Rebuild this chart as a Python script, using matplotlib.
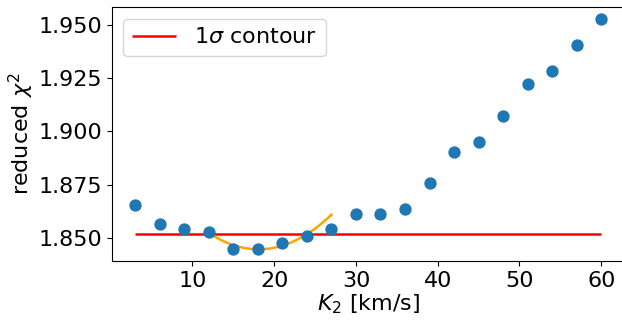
import numpy as np
import matplotlib
matplotlib.use("Agg")
import matplotlib.pyplot as plt

# Radial-velocity semi-amplitude grid and reduced chi-square values
k2 = [3, 6, 9, 12, 15, 18, 21, 24, 27, 30, 33, 36, 39, 42, 45, 48, 51, 54, 57, 60]
chi2 = [1.8655, 1.8566, 1.8542, 1.8528, 1.8448, 1.8448, 1.8477, 1.8510, 1.8542,
        1.8613, 1.8613, 1.8636, 1.8758, 1.8902, 1.8952, 1.9071, 1.9222, 1.9285,
        1.9405, 1.9528]
sigma_level = 1.852

# Quadratic fit near the minimum: chi2 = a*(K2 - k0)**2 + c0
fit_a, fit_k0, fit_c0 = 0.000205, 18.1, 1.8447
fit_range = [12, 27]

fig = plt.figure(figsize=(6.22, 3.24), dpi=100)
ax = fig.add_axes([0.180, 0.195, 0.824, 0.782])

ax.scatter(k2, chi2, s=62, color="#1f77b4", zorder=3)
ax.hlines(sigma_level, min(k2), max(k2), color="red", lw=1.8, label=r"1$\sigma$ contour")

xf = np.linspace(fit_range[0], fit_range[1], 200)
ax.plot(xf, fit_a * (xf - fit_k0) ** 2 + fit_c0, color="orange", lw=1.8)

ax.set_xticks([10, 20, 30, 40, 50, 60])
ax.set_yticks([1.850, 1.875, 1.900, 1.925, 1.950])
ax.set_yticklabels(["1.850", "1.875", "1.900", "1.925", "1.950"])
ax.tick_params(labelsize=16)
ax.set_xlabel(r"$K_2$ [km/s]", fontsize=16, labelpad=1)
ax.set_ylabel(r"reduced $\chi^2$", fontsize=16, labelpad=2)
ax.legend(loc="upper left", fontsize=16)

fig.savefig("out.png", dpi=100)
